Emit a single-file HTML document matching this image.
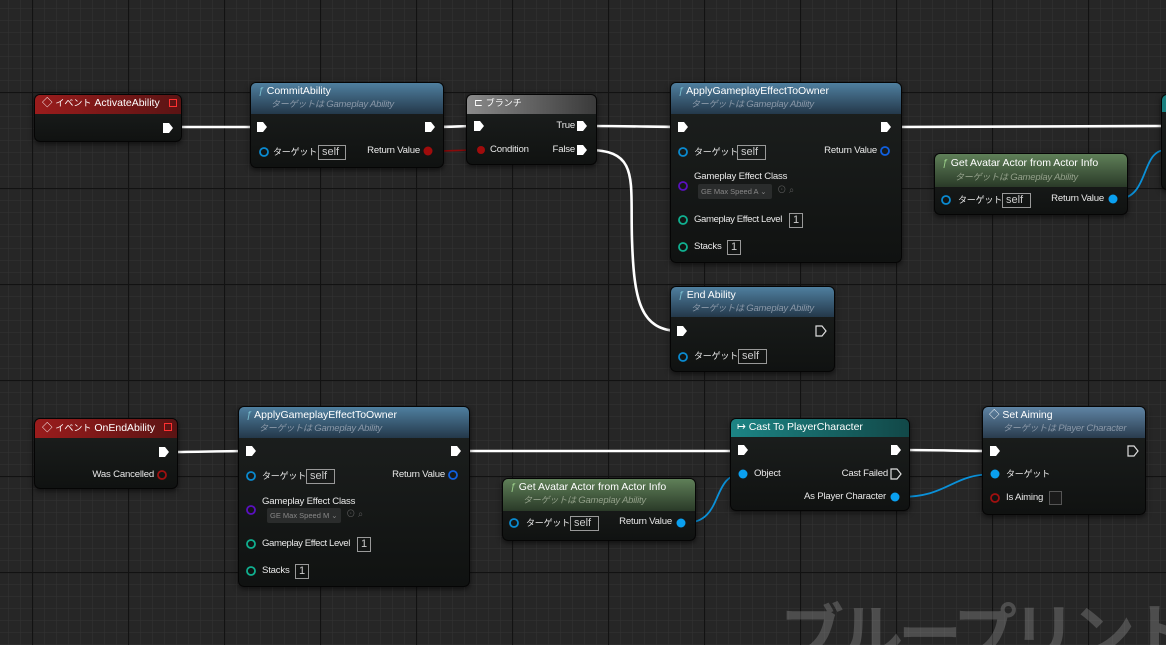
<!DOCTYPE html>
<html style="width:1166px;height:645px;overflow:hidden"><head><meta charset="utf-8"><style>
*{margin:0;padding:0;box-sizing:border-box}
body{width:1166px;height:645px;overflow:hidden;background:#262626;position:relative;font-family:"Liberation Sans","Noto Sans CJK JP",sans-serif;color:#ddd}
.n{position:absolute;background:linear-gradient(#1d201f,#101211);border:1px solid #050505;border-radius:6px;box-shadow:0 2px 6px rgba(0,0,0,.6);overflow:hidden}
.h{position:absolute;left:0;top:0;right:0}
.t{position:absolute;font-size:9.6px;white-space:nowrap;line-height:12px;color:#e8e8e8;letter-spacing:-0.2px}
.b{font-size:10.5px;color:#fff;letter-spacing:0}
.s{font-style:italic;font-size:9.5px;color:#8a98a8}
.r{text-align:right}
.j{font-size:9px}
.box{position:absolute;border:1px solid #999;font-size:11px;color:#ccc;line-height:12px;padding-left:3px}
.dd{position:absolute;background:#2a2c2c;border-radius:2px;font-size:7.5px;color:#888;line-height:15px;padding-left:3px;white-space:nowrap}
</style></head><body>
<svg width="1166" height="645" style="position:absolute;left:0;top:0">
<defs>
<pattern id="g" x="8" y="8" width="12" height="12" patternUnits="userSpaceOnUse"><path d="M0 0H12M0 0V12" stroke="#343434" stroke-width="1" fill="none"/></pattern>
<pattern id="G" x="32" y="92" width="96" height="96" patternUnits="userSpaceOnUse"><path d="M0 .5H96M.5 0V96" stroke="#121212" stroke-width="1.2" fill="none"/></pattern>
</defs>
<rect width="1166" height="645" fill="url(#g)"/>
<rect width="1166" height="645" fill="url(#G)"/>
<g fill="none" stroke-linecap="round">
<g stroke="#fff" stroke-width="2.6">
<path d="M172 127H258"/><path d="M434 127C455 127 460 126 478 126"/>
<path d="M588 126C640 126 650 127 682 127"/><path d="M890 127C1000 127 1100 126 1166 126"/>
<path d="M588 150C640 150 630 180 632 240C634 300 640 331 680 331"/>
<path d="M168 452C200 452 220 451 250 451"/><path d="M460 451H742"/><path d="M900 450C940 450 960 451 994 451"/>
</g>
<g stroke="#0a90d8" stroke-width="1.8">
<path d="M1117 199C1150 199 1140 150 1166 150"/>
<path d="M685 523C725 523 710 474 743 474"/>
<path d="M899 497C950 497 950 474 995 474"/>
</g>
<path d="M432 151C455 151 455 150 480 150" stroke="#8a0a0a" stroke-width="1.6"/>
</g>
</svg>
<div style="position:absolute;left:780px;top:603px;font-size:64px;font-weight:bold;letter-spacing:-5px;line-height:1;color:rgba(255,255,255,.18);white-space:nowrap">ブループリント</div>

<!-- Event ActivateAbility -->
<div class="n" style="left:34px;top:94px;width:148px;height:48px"><div class="h" style="height:19px;background:linear-gradient(90deg,#9a1c1c,#5a1414)"></div></div>
<div class="t b" style="left:42px;top:97px">◇ <span class="j">イベント</span> ActivateAbility</div>
<div style="position:absolute;left:169px;top:99px;width:8px;height:8px;border:1.5px solid #ff3030"></div>
<!-- CommitAbility -->
<div class="n" style="left:250px;top:82px;width:194px;height:86px"><div class="h" style="height:31px;background:linear-gradient(#4f7f9f,#24384a)"></div></div>
<div class="t b" style="left:258px;top:85px"><i style="color:#7bc">ƒ</i> CommitAbility</div>
<div class="t s" style="left:271px;top:98px"><span class="j">ターゲットは</span> Gameplay Ability</div>
<div class="t j" style="left:273px;top:146px">ターゲット</div><div class="box" style="left:318px;top:145px;width:28px;height:15px">self</div>
<div class="t r" style="left:340px;top:145px;width:80px">Return Value</div>
<!-- Branch -->
<div class="n" style="left:466px;top:94px;width:131px;height:71px"><div class="h" style="height:19px;background:linear-gradient(90deg,#8a8a8a,#3a3a3a)"></div></div>
<div class="t b" style="left:474px;top:97px">⊏ <span class="j">ブランチ</span></div>
<div class="t" style="left:490px;top:144px">Condition</div>
<div class="t r" style="left:520px;top:120px;width:55px">True</div>
<div class="t r" style="left:520px;top:144px;width:55px">False</div>
<!-- Apply top -->
<div class="n" style="left:670px;top:82px;width:232px;height:181px"><div class="h" style="height:31px;background:linear-gradient(#4f7f9f,#24384a)"></div></div>
<div class="t b" style="left:678px;top:85px"><i style="color:#7bc">ƒ</i> ApplyGameplayEffectToOwner</div>
<div class="t s" style="left:691px;top:98px"><span class="j">ターゲットは</span> Gameplay Ability</div>
<div class="t j" style="left:694px;top:146px">ターゲット</div><div class="box" style="left:737px;top:145px;width:29px;height:15px">self</div>
<div class="t r" style="left:797px;top:145px;width:80px">Return Value</div>
<div class="t" style="left:694px;top:171px">Gameplay Effect Class</div>
<div class="dd" style="left:698px;top:184px;width:74px;height:15px">GE Max Speed A ⌄</div>
<div class="t" style="left:777px;top:185px;color:#555">⊙ ⌕</div>
<div class="t" style="left:694px;top:214px;letter-spacing:-0.4px">Gameplay Effect Level</div><div class="box" style="left:789px;top:213px;width:14px;height:15px">1</div>
<div class="t" style="left:694px;top:241px">Stacks</div><div class="box" style="left:727px;top:240px;width:14px;height:15px">1</div>
<!-- Get avatar top -->
<div class="n" style="left:934px;top:153px;width:194px;height:62px"><div class="h" style="height:33px;background:linear-gradient(#5f7f58,#2a3a28)"></div></div>
<div class="t b" style="left:942px;top:157px"><i style="color:#9c8">ƒ</i> Get Avatar Actor from Actor Info</div>
<div class="t s" style="left:955px;top:171px;color:#93a08a"><span class="j">ターゲットは</span> Gameplay Ability</div>
<div class="t j" style="left:958px;top:194px">ターゲット</div><div class="box" style="left:1002px;top:193px;width:29px;height:15px">self</div>
<div class="t r" style="left:1024px;top:193px;width:80px">Return Value</div>
<!-- partial -->
<div class="n" style="left:1161px;top:94px;width:20px;height:96px"><div class="h" style="height:17px;background:#1a8080"></div></div>
<!-- End Ability -->
<div class="n" style="left:670px;top:286px;width:165px;height:86px"><div class="h" style="height:30px;background:linear-gradient(#4f7f9f,#24384a)"></div></div>
<div class="t b" style="left:678px;top:289px"><i style="color:#7bc">ƒ</i> End Ability</div>
<div class="t s" style="left:691px;top:302px"><span class="j">ターゲットは</span> Gameplay Ability</div>
<div class="t j" style="left:694px;top:350px">ターゲット</div><div class="box" style="left:738px;top:349px;width:29px;height:15px">self</div>
<!-- OnEndAbility -->
<div class="n" style="left:34px;top:418px;width:144px;height:71px"><div class="h" style="height:19px;background:linear-gradient(90deg,#9a1c1c,#5a1414)"></div></div>
<div class="t b" style="left:42px;top:422px">◇ <span class="j">イベント</span> OnEndAbility</div>
<div style="position:absolute;left:164px;top:423px;width:8px;height:8px;border:1.5px solid #ff3030"></div>
<div class="t r" style="left:74px;top:469px;width:80px">Was Cancelled</div>
<!-- Apply bottom -->
<div class="n" style="left:238px;top:406px;width:232px;height:181px"><div class="h" style="height:31px;background:linear-gradient(#4f7f9f,#24384a)"></div></div>
<div class="t b" style="left:246px;top:409px"><i style="color:#7bc">ƒ</i> ApplyGameplayEffectToOwner</div>
<div class="t s" style="left:259px;top:422px"><span class="j">ターゲットは</span> Gameplay Ability</div>
<div class="t j" style="left:262px;top:470px">ターゲット</div><div class="box" style="left:306px;top:469px;width:29px;height:15px">self</div>
<div class="t r" style="left:365px;top:469px;width:80px">Return Value</div>
<div class="t" style="left:262px;top:496px">Gameplay Effect Class</div>
<div class="dd" style="left:267px;top:508px;width:74px;height:15px">GE Max Speed M ⌄</div>
<div class="t" style="left:346px;top:509px;color:#555">⊙ ⌕</div>
<div class="t" style="left:262px;top:538px;letter-spacing:-0.4px">Gameplay Effect Level</div><div class="box" style="left:357px;top:537px;width:14px;height:15px">1</div>
<div class="t" style="left:262px;top:565px">Stacks</div><div class="box" style="left:295px;top:564px;width:14px;height:15px">1</div>
<!-- Get avatar bottom -->
<div class="n" style="left:502px;top:478px;width:194px;height:63px"><div class="h" style="height:32px;background:linear-gradient(#5f7f58,#2a3a28)"></div></div>
<div class="t b" style="left:510px;top:481px"><i style="color:#9c8">ƒ</i> Get Avatar Actor from Actor Info</div>
<div class="t s" style="left:523px;top:494px;color:#93a08a"><span class="j">ターゲットは</span> Gameplay Ability</div>
<div class="t j" style="left:526px;top:517px">ターゲット</div><div class="box" style="left:570px;top:516px;width:29px;height:15px">self</div>
<div class="t r" style="left:592px;top:516px;width:80px">Return Value</div>
<!-- Cast -->
<div class="n" style="left:730px;top:418px;width:180px;height:93px"><div class="h" style="height:18px;background:linear-gradient(90deg,#1c8484,#124848)"></div></div>
<div class="t b" style="left:737px;top:421px">↦ Cast To PlayerCharacter</div>
<div class="t" style="left:754px;top:468px">Object</div>
<div class="t r" style="left:800px;top:468px;width:88px">Cast Failed</div>
<div class="t r" style="left:780px;top:491px;width:106px">As Player Character</div>
<!-- Set Aiming -->
<div class="n" style="left:982px;top:406px;width:164px;height:109px"><div class="h" style="height:31px;background:linear-gradient(#5f84a4,#2a3c4e)"></div></div>
<div class="t b" style="left:989px;top:409px">◇ Set Aiming</div>
<div class="t s" style="left:1003px;top:422px"><span class="j">ターゲットは</span> Player Character</div>
<div class="t j" style="left:1006px;top:468px">ターゲット</div>
<div class="t" style="left:1006px;top:492px">Is Aiming</div>
<div style="position:absolute;left:1049px;top:491px;width:13px;height:14px;border:1px solid #555;background:#1a1a1a"></div>

<svg width="1166" height="645" style="position:absolute;left:0;top:0">
<defs>
<path id="ex" d="M-5 -5H1L5 0L1 5H-5Z"/>
</defs>
<g fill="#fff">
<use href="#ex" x="168" y="128"/><use href="#ex" x="262" y="127"/><use href="#ex" x="430" y="127"/>
<use href="#ex" x="479" y="126"/><use href="#ex" x="582" y="126"/><use href="#ex" x="582" y="150"/>
<use href="#ex" x="683" y="127"/><use href="#ex" x="886" y="127"/><use href="#ex" x="682" y="331"/>
<use href="#ex" x="164" y="452"/><use href="#ex" x="251" y="451"/><use href="#ex" x="456" y="451"/>
<use href="#ex" x="743" y="450"/><use href="#ex" x="896" y="450"/><use href="#ex" x="995" y="451"/>
</g>
<g fill="none" stroke="#ddd" stroke-width="1.2">
<use href="#ex" x="821" y="331"/><use href="#ex" x="896" y="474"/><use href="#ex" x="1133" y="451"/>
</g>
<g fill="none" stroke-width="1.8">
<circle cx="264" cy="152" r="4" stroke="#0a8ad0"/><circle cx="683" cy="152" r="4" stroke="#0a8ad0"/>
<circle cx="885" cy="151" r="4" stroke="#1060e0"/><circle cx="946" cy="200" r="4" stroke="#0a8ad0"/>
<circle cx="683" cy="357" r="4" stroke="#0a8ad0"/><circle cx="251" cy="476" r="4" stroke="#0a8ad0"/>
<circle cx="453" cy="475" r="4" stroke="#1060e0"/><circle cx="514" cy="523" r="4" stroke="#0a8ad0"/>
<circle cx="683" cy="186" r="4" stroke="#5a10c0"/><circle cx="251" cy="510" r="4" stroke="#5a10c0"/>
<circle cx="683" cy="220" r="4" stroke="#10b090"/><circle cx="683" cy="247" r="4" stroke="#10b090"/>
<circle cx="251" cy="544" r="4" stroke="#10b090"/><circle cx="251" cy="571" r="4" stroke="#10b090"/>
<circle cx="162" cy="475" r="4" stroke="#a01010"/><circle cx="995" cy="498" r="4" stroke="#a01010"/>
</g>
<g>
<circle cx="428" cy="151" r="4.5" fill="#a00c0c"/><circle cx="481" cy="150" r="4" fill="#a00c0c"/>
<circle cx="1113" cy="199" r="4.5" fill="#0aa0f0"/><circle cx="681" cy="523" r="4.5" fill="#0aa0f0"/>
<circle cx="743" cy="474" r="4.5" fill="#0aa0f0"/><circle cx="895" cy="497" r="4.5" fill="#0aa0f0"/>
<circle cx="995" cy="474" r="4.5" fill="#0aa0f0"/>
</g>
</svg>
</body></html>
